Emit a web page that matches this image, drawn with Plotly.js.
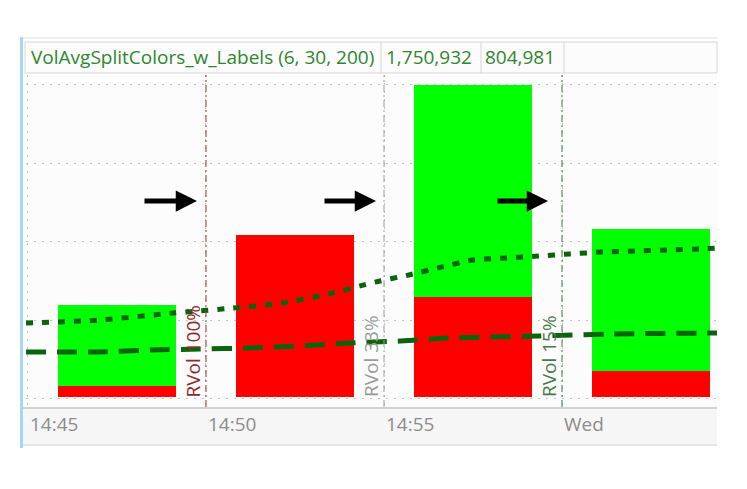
<!DOCTYPE html>
<html>
<head>
<meta charset="utf-8">
<script src="https://cdn.plot.ly/plotly-3.0.1.min.js"></script>
<style>html,body{margin:0;padding:0;background:#fff;}#chart{width:747px;height:489px;}</style>
</head>
<body>
<div id="chart"></div>
<script>
// ---- data ----
var studyTitle = "VolAvgSplitColors_w_Labels (6, 30, 200)";
var headerValues = ["1,750,932", "804,981"];
var tickTimes = [0, 5, 10, 15];               // minutes after 14:45
var tickLabels = ["14:45", "14:50", "14:55", "Wed"];
var barTimes = [2.5, 7.5, 12.5, 17.5];          // bar centres (minutes)
var redVol   = [62000, 909000, 561000, 146000];
var greenVol = [454000, 0, 1190000, 797000];
var dottedTimes = [-0.06, 2.02, 4.07, 4.83, 5.76, 7.16, 8.57, 9.75, 10.70, 11.63, 12.50, 13.46, 14.33, 15.22, 16.15, 17.05, 17.98, 18.88, 19.36];
var dottedVals  = [415000, 432000, 471000, 483000, 499000, 528000, 584000, 645000, 685000, 730000, 769000, 780000, 791000, 803000, 814000, 819000, 825000, 831000, 836000];
var dashedTimes = [-0.06, 2.02, 3.43, 4.83, 6.24, 7.64, 9.04, 10.45, 11.77, 14.30, 16.43, 19.36];
var dashedVals  = [253000, 253000, 264000, 269000, 275000, 286000, 303000, 314000, 331000, 342000, 354000, 359000];
var rvolTimes  = [5, 10, 15];
var rvolLabels = ["RVol 100%", "RVol 33%", "RVol 15%"];
var gridVals = [-5600, 432000, 870000, 1313000, 1751000];

// ---- styles ----
var rvolLineColors = ["#a82a2a", "#9c9c9c", "#3a783a"];
var rvolTextColors = ["#8f2a2a", "#9a9a9a", "#4a7a4a"];
var arrowShift = [-9, -8, -14];
var arrowLen = [-54, -53, -52];
var FONT = "Open Sans, Noto Sans, sans-serif";

var L = 26, T = 75, W = 691, H = 332;
function px2x(px){ return (px - L) / W; }
function py2y(py){ return (T + H - py) / H; }

var traces = [
  {type: "bar", x: barTimes, y: redVol, width: 3.31, marker: {color: "#ff0000", line: {width: 0}}, hoverinfo: "skip"},
  {type: "bar", x: barTimes, y: greenVol, width: 3.31, marker: {color: "#00ff00", line: {width: 0}}, hoverinfo: "skip"},
  {type: "scatter", mode: "lines", x: dottedTimes, y: dottedVals,
   line: {color: "#0b640b", width: 5, dash: "7px,9px", shape: "spline", smoothing: 0.6}, hoverinfo: "skip"},
  {type: "scatter", mode: "lines", x: dashedTimes, y: dashedVals,
   line: {color: "#0b640b", width: 5, dash: "20px,11px", shape: "spline", smoothing: 0.6}, hoverinfo: "skip"}
];

var shapes = [];
// outer chrome
shapes.push({type: "line", xref: "paper", yref: "paper", x0: px2x(22), x1: px2x(718), y0: py2y(38), y1: py2y(38), line: {color: "#e2e2e2", width: 1}});
shapes.push({type: "rect", xref: "paper", yref: "paper", x0: px2x(25), x1: px2x(717), y0: py2y(73), y1: py2y(42), fillcolor: "#fcfcfc", line: {color: "#d6d6d6", width: 1}});
[381, 481, 564].forEach(function(p){
  shapes.push({type: "line", xref: "paper", yref: "paper", x0: px2x(p), x1: px2x(p), y0: py2y(73), y1: py2y(42), line: {color: "#d6d6d6", width: 1}});
});
shapes.push({type: "rect", xref: "paper", yref: "paper", x0: px2x(23), x1: px2x(717), y0: py2y(445), y1: py2y(408), fillcolor: "#f6f6f6", line: {width: 0}, layer: "below"});
shapes.push({type: "line", xref: "paper", yref: "paper", x0: px2x(23), x1: px2x(717), y0: py2y(408), y1: py2y(408), line: {color: "#d2d2d2", width: 2}});
shapes.push({type: "line", xref: "paper", yref: "paper", x0: px2x(23), x1: px2x(717), y0: py2y(445), y1: py2y(445), line: {color: "#e6e6e6", width: 2}});
shapes.push({type: "line", xref: "paper", yref: "paper", x0: px2x(21.5), x1: px2x(21.5), y0: py2y(448), y1: py2y(37), line: {color: "#a6d6f6", width: 3}});
// RVol vertical lines
rvolTimes.forEach(function(t, i){
  shapes.push({type: "line", xref: "x", yref: "paper", x0: t, x1: t, y0: 0, y1: 1,
    line: {color: rvolLineColors[i], width: 1, dash: "7px,3px,2px,3px"}, layer: "above"});
});

var annotations = [];
var hdrFont = {family: FONT, size: 19, color: "#2f862f"};
annotations.push({xref: "paper", yref: "paper", x: px2x(29), y: py2y(57), xanchor: "left", yanchor: "middle",
  text: studyTitle, showarrow: false, font: hdrFont});
annotations.push({xref: "paper", yref: "paper", x: px2x(384), y: py2y(57), xanchor: "left", yanchor: "middle",
  text: headerValues[0], showarrow: false, font: hdrFont});
annotations.push({xref: "paper", yref: "paper", x: px2x(483), y: py2y(57), xanchor: "left", yanchor: "middle",
  text: headerValues[1], showarrow: false, font: hdrFont});
rvolTimes.forEach(function(t, i){
  annotations.push({xref: "x", yref: "y", x: t, y: 0, xanchor: "right", yanchor: "bottom", xshift: 1, yshift: -1,
    text: rvolLabels[i], textangle: -90, showarrow: false, borderpad: 0,
    font: {family: FONT, size: 19, color: rvolTextColors[i]}});
  annotations.push({xref: "x", yref: "paper", x: t, y: py2y(201), xshift: arrowShift[i], text: "",
    showarrow: true, ax: arrowLen[i], ay: 0, arrowhead: 2, arrowsize: 0.85, arrowwidth: 5, arrowcolor: "#000000"});
});

var layout = {
  width: 747, height: 489,
  margin: {l: L, r: 747 - L - W, t: T, b: 489 - T - H, pad: 0},
  paper_bgcolor: "#ffffff", plot_bgcolor: "#fcfcfc",
  barmode: "stack", showlegend: false,
  xaxis: {range: [-0.056, 19.354], tickmode: "array", tickvals: tickTimes, ticktext: tickLabels,
    showgrid: true, gridcolor: "#c4c4c4", griddash: "2px,6px", gridwidth: 1, zeroline: false,
    ticks: "", showline: false, ticklabelposition: "outside right", ticklabelstandoff: 4, ticklabelshift: 2,
    tickfont: {family: FONT, size: 19, color: "#8c8c8c"}},
  yaxis: {range: [-56120, 1807070], tickmode: "array", tickvals: gridVals, showticklabels: false,
    showgrid: true, gridcolor: "#c4c4c4", griddash: "2px,6px", gridwidth: 1, zeroline: false, ticks: "", showline: false},
  shapes: shapes, annotations: annotations
};
Plotly.newPlot("chart", traces, layout, {staticPlot: true, displayModeBar: false});
</script>
</body>
</html>
